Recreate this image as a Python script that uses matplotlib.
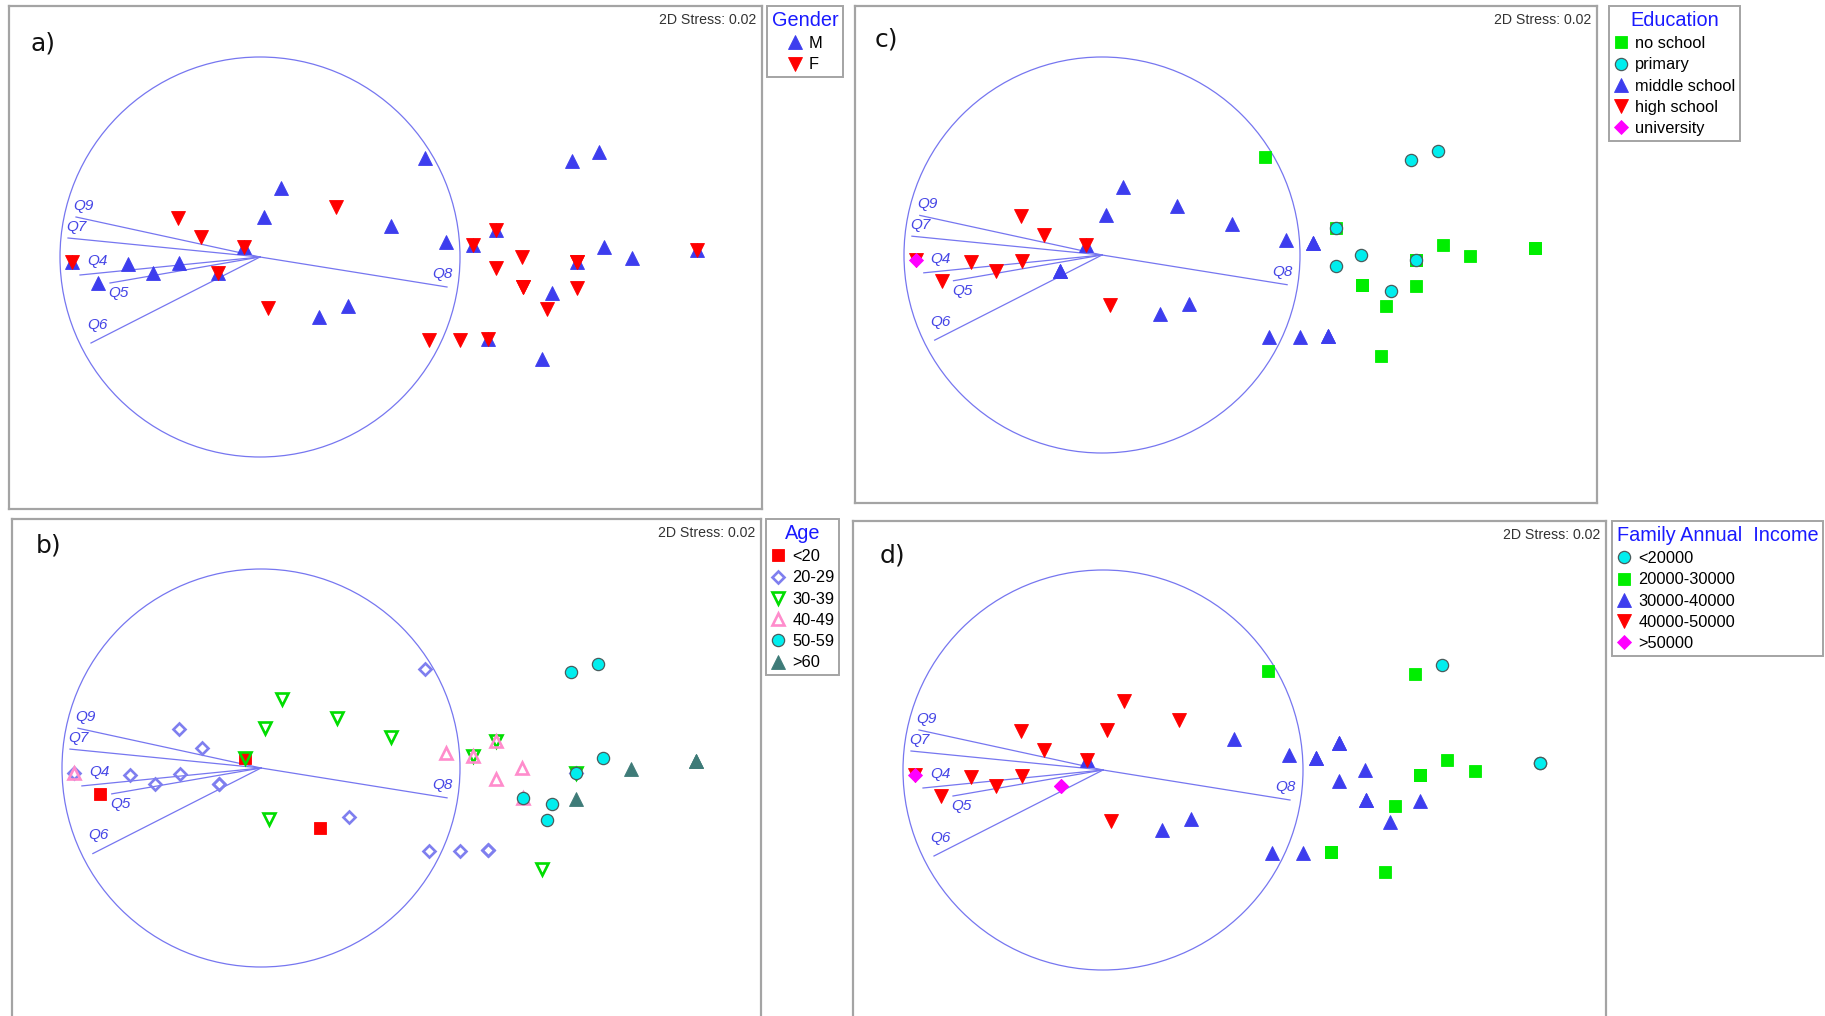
"""
nMDS ordination of respondents (2D stress 0.02) with Q4-Q9 vectors,
coloured by gender (a), age (b), education (c) and family income (d).
"""
import matplotlib
matplotlib.use("Agg")
import matplotlib.pyplot as plt
from matplotlib.lines import Line2D
from matplotlib.patches import Circle

plt.rcParams["font.family"] = ["Liberation Sans", "DejaVu Sans"]

W, H = 1825, 1016

# ---------------------------------------------------------------------------
# data: nMDS scores, one entry per respondent (repeated scores = tied samples)
# ---------------------------------------------------------------------------
mds_x = [0.825, 0.105, 0.38, -0.41, 0.02, -0.295, 0.655, 0.93, -0.08, -0.08,
         -0.94, -0.94, -0.66, -0.405, -0.535, -0.21, -0.21, -0.81, 0.04, 0.295,
         0.44, 0.845, 1.00, 1.56, 1.695, 1.18, 1.18, 1.065, 1.065, 1.31,
         1.18, 1.585, 1.585, 1.585, 1.72, 1.86, 2.185, 2.185, 1.315, 1.315,
         1.585, 1.46, 1.435, 1.14, 1.14, 1.41]
mds_y = [0.495, 0.345, 0.25, 0.195, 0.20, 0.10, 0.155, 0.075, 0.05, 0.05,
         -0.025, -0.025, -0.035, -0.03, -0.08, -0.08, -0.08, -0.13, -0.255, -0.30,
         -0.245, -0.415, -0.415, 0.48, 0.525, 0.135, 0.135, 0.06, 0.06, 0.0,
         -0.055, -0.025, -0.025, -0.025, 0.05, -0.005, 0.035, 0.035, -0.15, -0.15,
         -0.155, -0.18, -0.26, -0.41, -0.41, -0.51]
gender = ["M", "M", "F", "F", "M", "F", "M", "M", "M", "F",
          "M", "F", "M", "M", "M", "M", "F", "M", "F", "M",
          "M", "F", "F", "M", "M", "M", "F", "M", "F", "F",
          "F", "M", "F", "F", "M", "M", "M", "F", "F", "F",
          "F", "M", "F", "M", "F", "M"]
age = ["20-29", "30-39", "30-39", "20-29", "30-39", "20-29", "30-39", "40-49", "<20", "30-39",
       "20-29", "40-49", "20-29", "20-29", "20-29", "20-29", "20-29", "<20", "30-39", "<20",
       "20-29", "20-29", "20-29", "50-59", "50-59", "40-49", "30-39", "30-39", "40-49", "40-49",
       "40-49", "20-29", "30-39", "50-59", "50-59", ">60", ">60", ">60", "40-49", "50-59",
       ">60", "50-59", "50-59", "20-29", "20-29", "30-39"]
education = ["no school", "middle school", "middle school", "high school", "middle school",
             "high school", "middle school", "middle school", "middle school", "high school",
             "high school", "university", "high school", "high school", "high school",
             "middle school", "middle school", "high school", "high school", "middle school",
             "middle school", "middle school", "middle school", "primary", "primary",
             "no school", "primary", "middle school", "middle school", "primary",
             "primary", "no school", "no school", "primary", "no school",
             "no school", "no school", "no school", "no school", "no school",
             "no school", "primary", "no school", "middle school", "middle school",
             "no school"]
income = ["20000-30000", "40000-50000", "40000-50000", "40000-50000", "40000-50000",
          "40000-50000", "30000-40000", "30000-40000", "30000-40000", "40000-50000",
          "40000-50000", ">50000", "40000-50000", "40000-50000", "40000-50000",
          ">50000", ">50000", "40000-50000", "40000-50000", "30000-40000",
          "30000-40000", "30000-40000", "30000-40000", "20000-30000", "<20000",
          "30000-40000", "30000-40000", "30000-40000", "30000-40000", "30000-40000",
          "30000-40000", "20000-30000", "20000-30000", "20000-30000", "20000-30000",
          "20000-30000", "<20000", "<20000", "30000-40000", "30000-40000",
          "30000-40000", "20000-30000", "30000-40000", "20000-30000", "20000-30000",
          "20000-30000"]

# question vectors (end points, same units as the scores; circle radius = 1)
vec_names = ["Q9", "Q7", "Q4", "Q5", "Q6", "Q8"]
vec_x = [-0.92, -0.96, -0.90, -0.75, -0.845, 0.935]
vec_y = [0.20, 0.095, -0.09, -0.13, -0.43, -0.15]

gender_levels = ["M", "F"]
age_levels = ["<20", "20-29", "30-39", "40-49", "50-59", ">60"]
education_levels = ["no school", "primary", "middle school", "high school", "university"]
income_levels = ["<20000", "20000-30000", "30000-40000", "40000-50000", ">50000"]

# ---------------------------------------------------------------------------
# styles
# ---------------------------------------------------------------------------
BLUE, RED, GREEN, CYAN, MAGENTA = "#3d3dee", "#ff0000", "#00ee00", "#00eeee", "#ff00ff"
VEC = "#7676f0"
EDGE = "#4a5c5c"
filled = lambda m, c, ms: dict(marker=m, ms=ms, mfc=c, mec=c, mew=0.6)
opened = lambda m, c, ms: dict(marker=m, ms=ms, mfc="none", mec=c, mew=1.9)
circ = dict(marker="o", ms=8.8, mfc=CYAN, mec=EDGE, mew=0.9)

STY = {
    "gender": {"M": filled("^", BLUE, 10), "F": filled("v", RED, 10)},
    "age": {"<20": filled("s", RED, 8.4), "20-29": opened("D", "#7f7fef", 6.2),
            "30-39": opened("v", "#00dd00", 8.8), "40-49": opened("^", "#ff8ccc", 8.8),
            "50-59": circ, ">60": filled("^", "#3e7b78", 10)},
    "education": {"no school": filled("s", GREEN, 8.4), "primary": circ,
                  "middle school": filled("^", BLUE, 10), "high school": filled("v", RED, 10),
                  "university": filled("D", MAGENTA, 6.8)},
    "income": {"<20000": circ, "20000-30000": filled("s", GREEN, 8.4),
               "30000-40000": filled("^", BLUE, 10), "40000-50000": filled("v", RED, 10),
               ">50000": filled("D", MAGENTA, 6.8)},
}

# panel boxes in pixels (x0, y0, x1, y1), circle centre and radius in pixels
PANELS = [
    dict(key="gender", groups=gender, levels=gender_levels, title="Gender", tag="a)",
         box=(9, 6, 762, 509), c=(260, 257), r=200, tag_off=(22, 38), leg=(767, 6),
         align="center"),
    dict(key="age", groups=age, levels=age_levels, title="Age", tag="b)",
         box=(12, 519, 761, 1018), c=(261, 768), r=199, tag_off=(24, 26), leg=(766, 519),
         align="center"),
    dict(key="education", groups=education, levels=education_levels, title="Education",
         tag="c)", box=(855, 6, 1597, 503), c=(1102, 255), r=198, tag_off=(20, 34),
         leg=(1609, 6), align="center"),
    dict(key="income", groups=income, levels=income_levels, title="Family Annual  Income",
         tag="d)", box=(853, 521, 1606, 1018), c=(1103, 770), r=200, tag_off=(27, 35),
         leg=(1612, 521), align="left"),
]
# label offsets (pt) of the vector names relative to the vector tips
LAB_OFF = {"Q9": (-2, 3, "left", "bottom"), "Q7": (-1, 3, "left", "bottom"),
           "Q4": (5, 5, "left", "bottom"), "Q5": (-1, -2, "left", "top"),
           "Q6": (-3, 8, "left", "bottom"), "Q8": (4, 4, "right", "bottom")}

fig = plt.figure(figsize=(W / 100, H / 100), dpi=100)

for p in PANELS:
    x0, y0, x1, y1 = p["box"]
    ax = fig.add_axes([x0 / W, 1 - y1 / H, (x1 - x0) / W, (y1 - y0) / H])
    cx, cy = p["c"]; r = p["r"]
    ax.set_xlim((x0 - cx) / r, (x1 - cx) / r)
    ax.set_ylim((cy - y1) / r, (cy - y0) / r)
    ax.set_xticks([]); ax.set_yticks([])
    for s in ax.spines.values():
        s.set_color("#a4a4a4"); s.set_linewidth(1.6)

    ax.add_patch(Circle((0, 0), 1.0, fill=False, ec=VEC, lw=0.9, zorder=1))
    for name, vx, vy in zip(vec_names, vec_x, vec_y):
        ax.plot([0, vx], [0, vy], color=VEC, lw=0.9, zorder=1)
        dx, dy, ha, va = LAB_OFF[name]
        ax.annotate(name, (vx, vy), xytext=(dx, dy), textcoords="offset points",
                    ha=ha, va=va, color="#4646e6", fontsize=11, style="italic")

    sty = STY[p["key"]]
    handles = []
    for lev in p["levels"]:
        xs = [x for x, g in zip(mds_x, p["groups"]) if g == lev]
        ys = [y for y, g in zip(mds_y, p["groups"]) if g == lev]
        ax.plot(xs, ys, ls="none", zorder=3, **sty[lev])
        handles.append(Line2D([], [], ls="none", **sty[lev]))

    ax.annotate("2D Stress: 0.02", (1, 1), xycoords="axes fraction", xytext=(-4, -10),
                textcoords="offset points", ha="right", va="center", fontsize=10.2,
                color="#333333")
    ax.annotate(p["tag"], (0, 1), xycoords="axes fraction",
                xytext=(p["tag_off"][0] * 0.72, -p["tag_off"][1] * 0.72),
                textcoords="offset points", ha="left", va="center", fontsize=18,
                family="DejaVu Sans", color="#111111")

    lx, ly = p["leg"]
    leg = fig.legend(handles, p["levels"], title=p["title"], loc="upper left",
                     bbox_to_anchor=(lx / W, 1 - ly / H), borderaxespad=0,
                     fontsize=11.8, title_fontsize=14.3, frameon=True, fancybox=False,
                     handlelength=0.9, handletextpad=0.4, borderpad=0.3,
                     labelspacing=0.38, framealpha=1, alignment=p["align"])
    leg.get_title().set_color("#1a1aff")
    leg.get_frame().set_edgecolor("#a4a4a4")
    leg.get_frame().set_linewidth(1.4)

fig.savefig("out.png", dpi=100)
